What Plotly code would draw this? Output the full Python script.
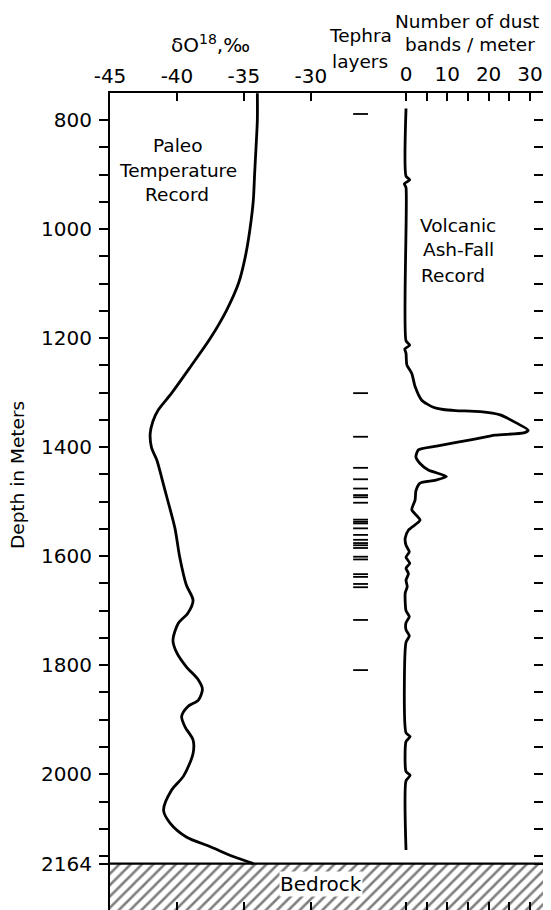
import plotly.graph_objects as go

# ---------------- data ----------------
o18_depth = [751, 800, 851, 897, 947, 1000, 1051, 1099, 1149, 1200, 1253, 1301, 1332, 1353,
             1375, 1401, 1424, 1460, 1497, 1549, 1601, 1653, 1681, 1705, 1723, 1754, 1778,
             1803, 1827, 1844, 1864, 1876, 1894, 1913, 1937, 1962, 2003, 2029, 2066, 2090,
             2115, 2133, 2151, 2164]
o18_value = [-34.0, -34.0, -34.1, -34.2, -34.3, -34.55, -34.9, -35.4, -36.3, -37.5, -39.0,
             -40.4, -41.4, -41.8, -42.0, -41.9, -41.5, -41.1, -40.7, -40.15, -39.8, -39.3,
             -38.8, -39.2, -39.9, -40.3, -40.0, -39.3, -38.4, -38.1, -38.4, -39.2, -39.65,
             -39.4, -38.8, -38.8, -39.5, -40.4, -41.0, -40.5, -39.3, -37.5, -35.8, -34.3]

dust_depth = [779, 903, 910, 917, 924, 1205, 1213, 1220, 1228, 1249, 1265, 1289, 1314, 1327,
              1331, 1333, 1335, 1341, 1356, 1369, 1374, 1378, 1386, 1398, 1405, 1418, 1430,
              1442, 1454, 1461, 1466, 1480, 1497, 1515, 1534, 1552, 1567, 1580, 1592, 1602,
              1613, 1622, 1632, 1644, 1656, 1668, 1700, 1711, 1722, 1735, 1746, 1758, 1924,
              1931, 1940, 1995, 2002, 2012, 2139]
dust_value = [0, 0, 0.9, -0.4, 0, 0, 0.9, -0.3, 0, 0.2, 1.4, 2.2, 3.8, 6.6,
              9.0, 12.0, 18.0, 22.8, 26.8, 29.6, 28.5, 21.5, 16.3, 7.4, 3.0, 2.4, 3.4,
              5.4, 9.8, 7.0, 3.4, 2.4, 2.2, 1.4, 3.4, 0.6, -0.2, 0, 0.8, 0,
              0.9, 0, 0.6, 0, 0.3, -0.2, 0, 0.8, 0, 0, 0.8, 0, 0,
              1.0, 0, 0, 1.0, 0, 0]

tephra_depth = [789, 1301, 1381, 1438, 1459, 1476, 1488, 1492, 1502, 1533, 1537, 1540,
                1549, 1561, 1570, 1576, 1580, 1585, 1601, 1606, 1633, 1638, 1651, 1657,
                1717, 1809]

bedrock_depth = 2164
o18_ticks = [-45, -40, -35, -30]
o18_ticklabels = ["-45", "-40", "-35", "-30"]
dust_ticks = [0, 5, 10, 15, 20, 25, 30]
dust_ticklabels = ["0", "", "10", "", "20", "", "30"]
depth_ticks = list(range(800, 2151, 50)) + [2164]
depth_labels = {800: "800", 1000: "1000", 1200: "1200", 1400: "1400", 1600: "1600",
                1800: "1800", 2000: "2000", 2164: "2164"}
depth_ticklabels = [depth_labels.get(v, "") for v in depth_ticks]

# ---------------- layout geometry ----------------
OFF = 8  # default page margin around the figure
W, H = 551 - OFF, 910 - OFF
ML, MR, MT, MB = 110 - OFF, 7, 93 - OFF, 0
PW, PH = W - ML - MR, H - MT - MB
o18_range = [-45, -12.6]
dust_range = [-71.67, 33.41]
depth_range = [2249, 750.5]
tephra_x = [-12.8, -9.2]

def px(x):  # page pixel -> paper
    return (x - OFF - ML) / PW

def py(y):
    return (H - MB - (y - OFF)) / PH

FONT = "DejaVu Sans"
fig = go.Figure()

# bedrock hatch
fig.add_trace(go.Scatter(
    x=[o18_range[0], o18_range[1], o18_range[1], o18_range[0], o18_range[0]],
    y=[bedrock_depth, bedrock_depth, depth_range[0], depth_range[0], bedrock_depth],
    fill="toself", mode="lines", line=dict(width=0, color="black"),
    fillcolor="white",
    fillpattern=dict(shape="/", size=8, solidity=0.32, fgcolor="black", bgcolor="white"),
    hoverinfo="skip", showlegend=False, xaxis="x", yaxis="y"))

# paleo temperature
fig.add_trace(go.Scatter(x=o18_value, y=o18_depth, mode="lines",
                         line=dict(color="black", width=2.8, shape="spline", smoothing=0.8),
                         showlegend=False, xaxis="x", yaxis="y"))

# dust bands
fig.add_trace(go.Scatter(x=dust_value, y=dust_depth, mode="lines",
                         line=dict(color="black", width=2.8, shape="spline", smoothing=0.6),
                         showlegend=False, xaxis="x2", yaxis="y"))

# tephra layers
tx, ty = [], []
for d in tephra_depth:
    tx += [tephra_x[0], tephra_x[1], None]
    ty += [d, d, None]
fig.add_trace(go.Scatter(x=tx, y=ty, mode="lines", line=dict(color="black", width=1.8),
                         showlegend=False, xaxis="x2", yaxis="y2"))

# bedrock top line
fig.add_shape(type="line", xref="paper", x0=0, x1=1, yref="y", y0=bedrock_depth,
              y1=bedrock_depth, line=dict(color="black", width=2.2))

tickfont = dict(family=FONT, size=20, color="black")
axcommon = dict(showgrid=False, zeroline=False, showline=True, linecolor="black",
                linewidth=2, tickcolor="black", tickwidth=1.6, tickfont=tickfont,
                automargin=False)

fig.update_layout(
    width=W, height=H, margin=dict(l=ML, r=MR, t=MT, b=MB, autoexpand=False),
    paper_bgcolor="white", plot_bgcolor="white",
    xaxis=dict(side="top", range=o18_range, tickvals=o18_ticks, ticktext=o18_ticklabels,
               ticks="inside", ticklen=8, mirror="ticks", ticklabelstandoff=0, **axcommon),
    xaxis2=dict(side="top", overlaying="x", range=dust_range, tickvals=dust_ticks,
                ticktext=dust_ticklabels, ticks="inside", ticklen=8, mirror="ticks",
                ticklabelstandoff=2, **axcommon),
    yaxis=dict(range=depth_range, tickvals=depth_ticks, ticktext=depth_ticklabels,
               ticks="outside", ticklen=9, ticklabelstandoff=3, **axcommon),
    yaxis2=dict(overlaying="y", side="right", range=depth_range, tickvals=depth_ticks,
                showticklabels=False, ticks="inside", ticklen=10, **axcommon),
)

def ann(text, x, y, size=18.5, **kw):
    fig.add_annotation(text=text, x=px(x), y=py(y), xref="paper", yref="paper",
                       showarrow=False, xanchor="center", yanchor="middle",
                       font=dict(family=FONT, size=size, color="black"), **kw)

ann("δO<sup>18</sup>,‰", 210, 44, size=20)
ann("Tephra", 360, 35)
ann("layers", 360, 62)
ann("Number of dust", 467, 21)
ann("bands / meter", 470, 45)
ann("Paleo", 178, 145)
ann("Temperature", 178, 170)
ann("Record", 177, 195)
ann("Volcanic", 458, 225)
ann("Ash-Fall", 458, 250)
ann("Record", 453, 275)
ann("Bedrock", 321, 884, size=20, bgcolor="white", borderpad=0)
ann("Depth in Meters", 18, 475, textangle=-90)

fig.write_html("out.html")
